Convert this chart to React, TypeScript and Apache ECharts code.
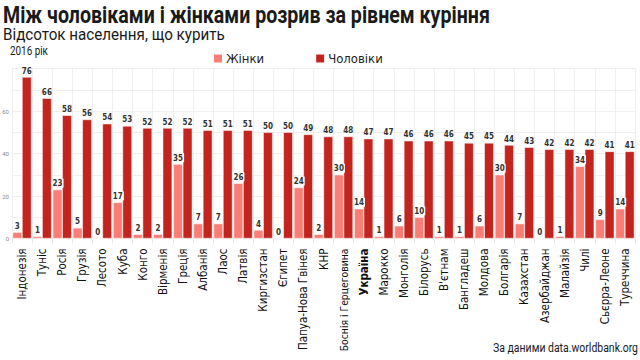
import React, { useEffect, useRef } from "react";
import * as echarts from "echarts";

const countries = [
  "Індонезія", "Туніс", "Росія", "Грузія", "Лесото", "Куба", "Конго", "Вірменія",
  "Греція", "Албанія", "Лаос", "Латвія", "Киргизстан", "Єгипет", "Папуа-Нова Гвінея",
  "КНР", "Боснія і Герцеговина", "Україна", "Марокко", "Монголія", "Білорусь",
  "В'єтнам", "Бангладеш", "Молдова", "Болгарія", "Казахстан", "Азербайджан",
  "Малайзія", "Чилі", "Сьєрра-Леоне", "Туреччина",
];
const women = [3, 1, 23, 5, 0, 17, 2, 2, 35, 7, 7, 26, 4, 0, 24, 2, 30, 14, 1, 6, 10, 1, 1, 6, 30, 7, 0, 1, 34, 9, 14];
const men = [76, 66, 58, 56, 54, 53, 52, 52, 52, 51, 51, 51, 50, 50, 49, 48, 48, 47, 47, 46, 46, 46, 45, 45, 44, 43, 42, 42, 42, 41, 41];
const yTicks = [0, 20, 40, 60];

const TITLE = "Між чоловіками і жінками розрив за рівнем куріння";
const SUBTITLE = "Відсоток населення, що курить";
const YEAR = "2016 рік";
const SOURCE = "За даними data.worldbank.org";

const NARROW = "'DejaVu Sans Condensed', 'Liberation Sans Narrow', sans-serif";
const WOMEN_COLOR = "#fa7d76";
const MEN_COLOR = "#c4241e";

function fitScale(text: string, font: string, target: number): number {
  try {
    const c = document.createElement("canvas").getContext("2d");
    if (!c) return 1;
    c.font = font;
    const w = c.measureText(text).width;
    return w > 0 ? target / w : 1;
  } catch (e) {
    return 1;
  }
}

function headerText(text: string, x: number, y: number, size: number, weight: string, target: number, align = "left") {
  const font = `${weight} ${size}px Roboto`;
  return {
    type: "text",
    x,
    y,
    scaleX: fitScale(text, font, target),
    style: {
      text,
      fontFamily: "Roboto",
      fontSize: size,
      fontWeight: weight,
      fill: "#1a1a1a",
      align,
      verticalAlign: "top",
    },
  };
}

export default function App() {
  const ref = useRef<HTMLDivElement>(null);
  useEffect(() => {
    if (!ref.current) return;
    const chart = echarts.init(ref.current, undefined, { renderer: "svg" });
    const labelStyle = {
      show: true,
      position: "top",
      distance: 2,
      fontSize: 8,
      fontWeight: "bold",
      color: "#333",
      fontFamily: NARROW,
    };
    chart.setOption({
      animation: false,
      backgroundColor: "#fff",
      graphic: [
        headerText(TITLE, 3, 3, 23, "bold", 487),
        headerText(SUBTITLE, 3, 27, 16, "normal", 222),
        headerText(YEAR, 10, 45, 12, "normal", 38),
        headerText(SOURCE, 638, 341, 13, "normal", 145, "right"),
      ],
      legend: {
        left: 207,
        top: 47,
        itemWidth: 10,
        itemHeight: 10,
        itemGap: 50,
        icon: "rect",
        textStyle: { fontFamily: NARROW, fontSize: 13, color: "#222", padding: [0, 0, 0, -2] },
        data: ["Жінки", "Чоловіки"],
      },
      grid: { left: 12, right: 5, top: 68.5, bottom: 121.5, containLabel: false, outerBoundsMode: "none" },
      xAxis: {
        type: "category",
        data: countries,
        axisLine: { show: false },
        axisTick: { show: true, length: 5, lineStyle: { color: "#e6e6e6" } },
        splitLine: { show: true, lineStyle: { color: "#efefef", width: 1 } },
        axisLabel: {
          interval: 0,
          rotate: 90,
          margin: 10,
          fontFamily: NARROW,
          fontSize: 11.5,
          color: "#111",
          formatter: (v: string) =>
            v === "Україна" ? "{b|" + v + "}" : v.length > 18 ? "{s|" + v + "}" : v,
          rich: {
            b: { fontFamily: NARROW, fontSize: 11.5, fontWeight: "bold", color: "#111" },
            s: { fontFamily: NARROW, fontSize: 10.3, color: "#111" },
          },
        },
      },
      yAxis: {
        type: "value",
        min: 0,
        max: 80,
        interval: 10,
        axisLine: { show: false },
        axisTick: { show: false },
        splitLine: { show: true, lineStyle: { color: "#efefef", width: 1 } },
        axisLabel: {
          margin: 3,
          fontSize: 6,
          color: "#888",
          fontFamily: "Roboto, sans-serif",
          formatter: (v: number) => (yTicks.indexOf(v) >= 0 ? String(v) : ""),
        },
      },
      series: [
        {
          name: "Жінки",
          type: "bar",
          data: women,
          barGap: "0%",
          barCategoryGap: "6%",
          itemStyle: { color: WOMEN_COLOR, borderColor: "#fff", borderWidth: 0.5 },
          label: { ...labelStyle, backgroundColor: "#fff", padding: [1, 1, 0, 1] },
        },
        {
          name: "Чоловіки",
          type: "bar",
          data: men,
          itemStyle: { color: MEN_COLOR, borderColor: "#fff", borderWidth: 0.5 },
          label: { ...labelStyle },
        },
      ],
    });
    return () => chart.dispose();
  }, []);
  return <div ref={ref} style={{ width: 640, height: 360, position: "absolute", left: 0, top: 0 }} />;
}
